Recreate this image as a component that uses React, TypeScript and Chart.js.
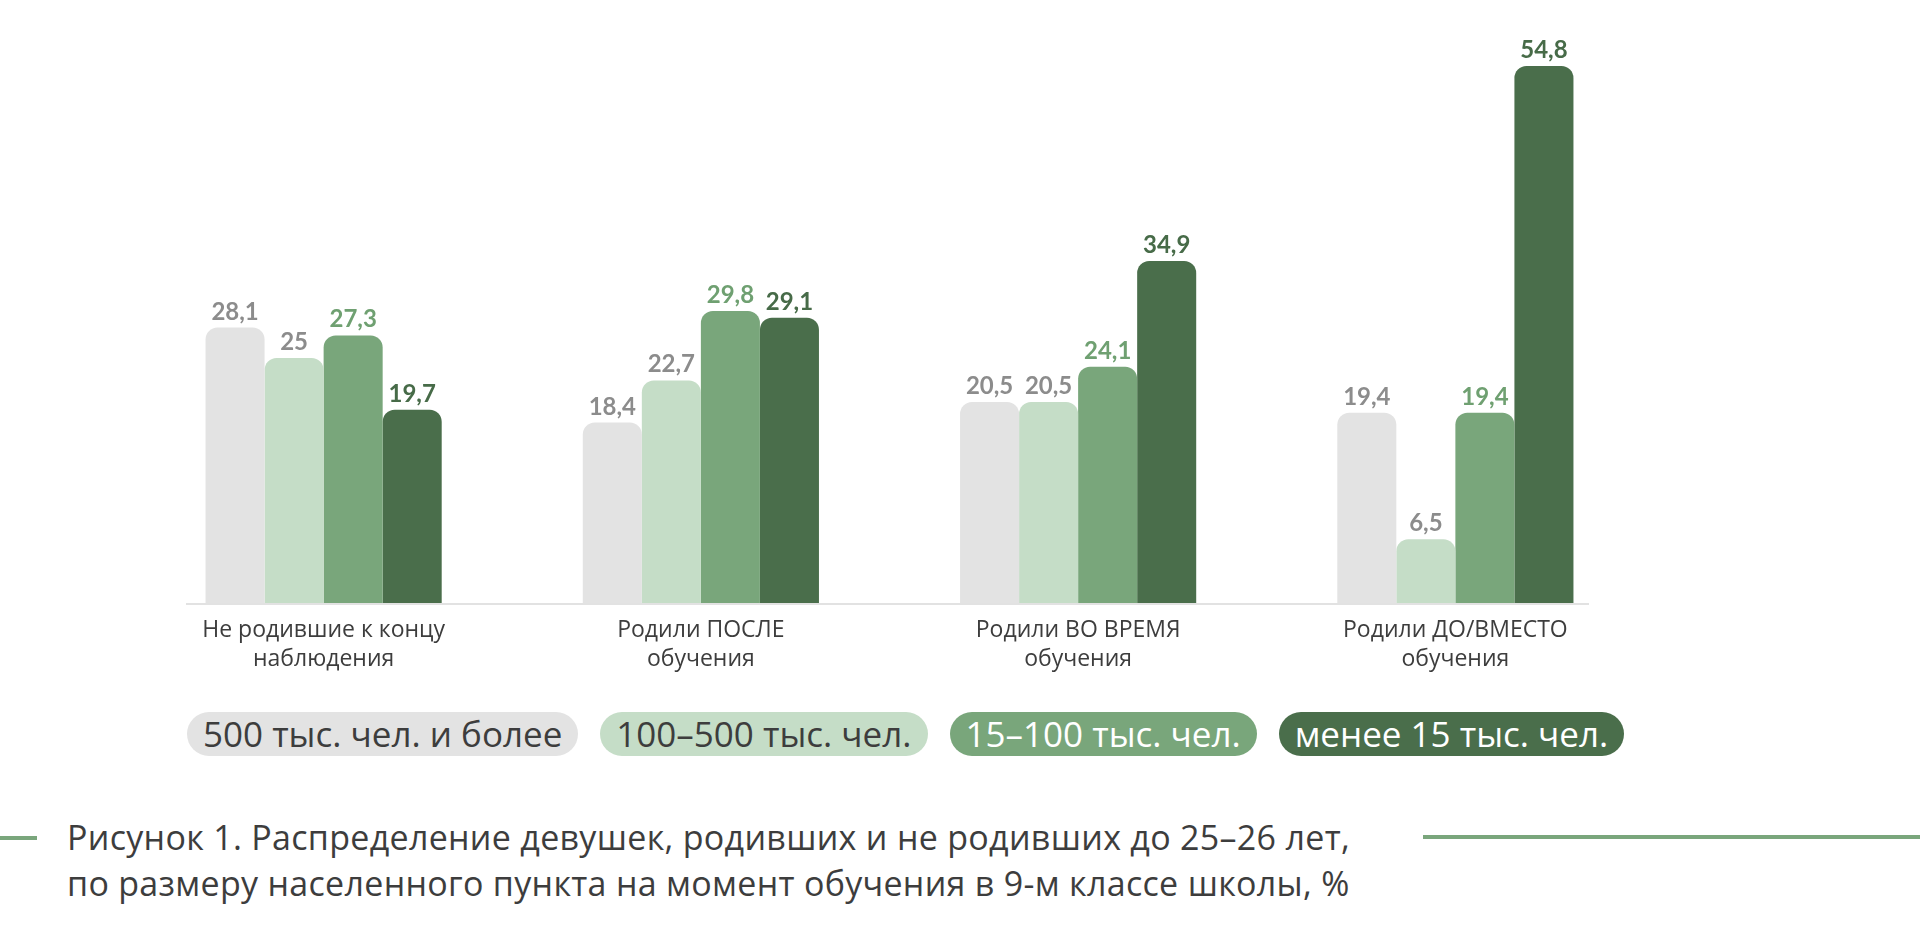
import React, { useEffect, useRef } from 'react';
import { Chart, registerables } from 'chart.js';

Chart.register(...registerables);

const categories = [
  ['Не родившие к концу', 'наблюдения'],
  ['Родили ПОСЛЕ', 'обучения'],
  ['Родили ВО ВРЕМЯ', 'обучения'],
  ['Родили ДО/ВМЕСТО', 'обучения'],
];

const seriesNames = ['500 тыс. чел. и более', '100–500 тыс. чел.', '15–100 тыс. чел.', 'менее 15 тыс. чел.'];

const over500 = [28.1, 18.4, 20.5, 19.4];
const from100to500 = [25, 22.7, 20.5, 6.5];
const from15to100 = [27.3, 29.8, 24.1, 19.4];
const under15 = [19.7, 29.1, 34.9, 54.8];

const barColors = ['#e3e3e3', '#c5ddc7', '#79a67b', '#4a6e4b'];
const valueColors = ['#8c8c8c', '#8c8c8c', '#6fa071', '#476b48'];
const legendTextColors = ['#3d3d3d', '#3d3d3d', '#ffffff', '#ffffff'];

const FONT = '"Open Sans", Lato, sans-serif';
const NUM_FONT = 'Lato, "Open Sans", sans-serif';

const valueLabels = {
  id: 'valueLabels',
  afterDatasetsDraw(chart: Chart) {
    const ctx = chart.ctx;
    ctx.save();
    ctx.font = `bold 24px ${NUM_FONT}`;
    ctx.textAlign = 'center';
    ctx.textBaseline = 'alphabetic';
    chart.data.datasets.forEach((ds, i) => {
      const meta = chart.getDatasetMeta(i);
      ctx.fillStyle = valueColors[i];
      meta.data.forEach((bar: any, j: number) => {
        const v = ds.data[j] as number;
        ctx.fillText(String(v).replace('.', ','), bar.x, bar.y - 8);
      });
    });
    ctx.restore();
  },
};

// thin baseline, a bit shorter than the category band
const baseline = {
  id: 'baseline',
  afterDatasetsDraw(chart: Chart) {
    const { ctx, chartArea } = chart;
    ctx.save();
    ctx.strokeStyle = '#e2e2e2';
    ctx.lineWidth = 2;
    ctx.beginPath();
    ctx.moveTo(chartArea.left + 51, chartArea.bottom + 1);
    ctx.lineTo(chartArea.right - 55, chartArea.bottom + 1);
    ctx.stroke();
    ctx.restore();
  },
};

const App: React.FC = () => {
  const chartRef = useRef<HTMLCanvasElement>(null);
  const chartInstance = useRef<Chart | null>(null);

  useEffect(() => {
    if (!chartRef.current) return;
    if (chartInstance.current) chartInstance.current.destroy();
    const ctx = chartRef.current.getContext('2d');
    if (!ctx) return;

    const series = [over500, from100to500, from15to100, under15];

    chartInstance.current = new Chart(ctx, {
      type: 'bar',
      data: {
        labels: categories,
        datasets: series.map((data, i) => ({
          label: seriesNames[i],
          data,
          backgroundColor: barColors[i],
          borderWidth: 0,
          borderRadius: 12,
          borderSkipped: 'start',
          barPercentage: 1,
          categoryPercentage: 0.626,
        })),
      },
      options: {
        animation: false,
        responsive: true,
        maintainAspectRatio: false,
        layout: { padding: { top: 15, left: 135, right: 276, bottom: 0 } },
        plugins: {
          legend: { display: false },
          tooltip: { enabled: false },
        },
        scales: {
          x: {
            grid: { display: false },
            border: { display: false },
            ticks: {
              color: '#3d3d3d',
              padding: 6,
              font: { family: FONT, size: 23, lineHeight: 1.22 },
            },
          },
          y: {
            display: false,
            min: 0,
            max: 60,
          },
        },
      },
      plugins: [baseline, valueLabels],
    });

    return () => {
      if (chartInstance.current) {
        chartInstance.current.destroy();
        chartInstance.current = null;
      }
    };
  }, []);

  return (
    <div
      style={{
        position: 'absolute',
        left: 0,
        top: 0,
        width: 1920,
        height: 939,
        background: '#fff',
        fontFamily: FONT,
        overflow: 'hidden',
      }}
    >
      <div style={{ position: 'absolute', left: 0, top: 0, width: 1920, height: 679 }}>
        <canvas ref={chartRef}></canvas>
      </div>

      <div style={{ position: 'absolute', left: 187, top: 712, display: 'flex', gap: 22 }}>
        {seriesNames.map((name, i) => (
          <div
            key={name}
            style={{
              height: 44,
              lineHeight: '44px',
              padding: '0 16px',
              borderRadius: 22,
              background: barColors[i],
              color: legendTextColors[i],
              fontSize: 35,
              whiteSpace: 'nowrap',
            }}
          >
            {name}
          </div>
        ))}
      </div>

      <div style={{ position: 'absolute', left: 0, top: 836, width: 37, height: 4, background: '#7aa67c' }} />
      <div style={{ position: 'absolute', left: 1423, top: 835, width: 497, height: 4, background: '#7aa67c' }} />
      <div
        style={{
          position: 'absolute',
          left: 67,
          top: 814,
          fontSize: 34,
          letterSpacing: '0.3px',
          lineHeight: '46px',
          color: '#3d3d3d',
        }}
      >
        Рисунок 1. Распределение девушек, родивших и не родивших до 25–26 лет,
        <br />
        по размеру населенного пункта на момент обучения в 9-м классе школы, %
      </div>
    </div>
  );
};

export default App;
